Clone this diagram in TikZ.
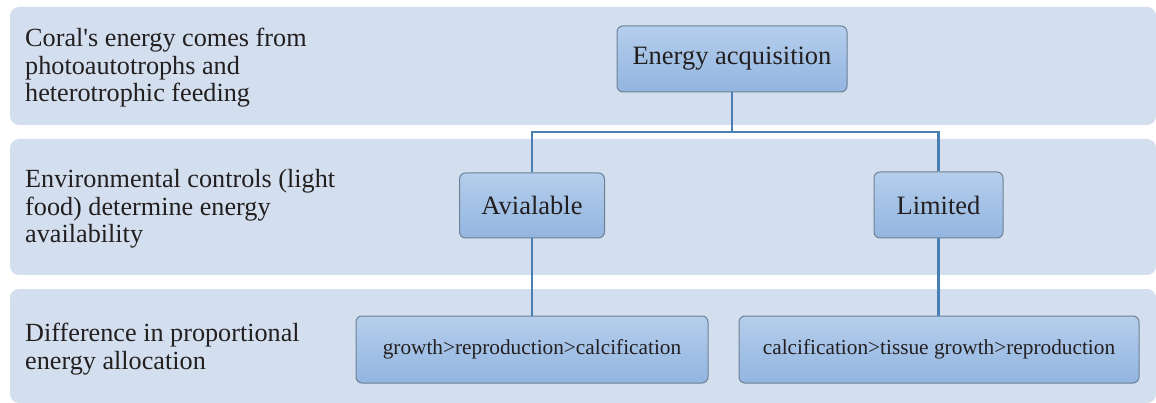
\documentclass[tikz,border=0pt]{standalone}
\usepackage{fontspec}
\setmainfont{Liberation Serif}
\definecolor{bandblue}{HTML}{D3DFEE}
\definecolor{boxtop}{HTML}{B5CEEC}
\definecolor{boxbot}{HTML}{92B5E0}
\definecolor{boxedge}{HTML}{6D8196}
\definecolor{linkblue}{HTML}{4A7FB3}
\definecolor{txt}{HTML}{231F20}
\begin{document}
\begin{tikzpicture}[x=1pt,y=-1pt,
  band/.style={fill=bandblue,draw=none,rounded corners=9pt},
  bandtext/.style={anchor=west,align=left,text=txt,inner sep=0pt,font=\fontsize{26.2}{27.6}\selectfont},
  cbox/.style={draw=boxedge,line width=1pt,rounded corners=6pt,top color=boxtop,bottom color=boxbot,
     text=txt,font=\fontsize{26.5}{28}\selectfont,inner sep=0pt},
  sbox/.style={cbox,font=\fontsize{21.3}{24}\selectfont},
  link/.style={draw=linkblue,line width=2.8pt}]
\useasboundingbox (0,0) rectangle (1156,403);
\fill[white] (0,0) rectangle (1156,403);
% bands
\path[band] (10,7) rectangle (1156,125);
\path[band] (10,139) rectangle (1156,275);
\path[band] (10,289) rectangle (1156,403);
% band labels
\node[bandtext] (l1) at (25,68) {Coral\textquotesingle s energy comes from\\photoautotrophs and\\heterotrophic feeding};
\node[bandtext] (l2) at (25,209) {Environmental controls (light\\food) determine energy\\availability};
\node[bandtext] (l3) at (25,349) {Difference in proportional\\energy allocation};
% boxes
\node[cbox,minimum width=230pt,minimum height=66pt] (ea) at (732,59) {Energy acquisition};
\node[cbox,minimum width=145pt,minimum height=65pt] (av) at (532,205.5) {Avialable};
\node[cbox,minimum width=129pt,minimum height=66pt] (li) at (938.5,205) {Limited};
\node[sbox,minimum width=352pt,minimum height=67pt] (g1) at (532,349.5) {growth>reproduction>calcification};
\node[sbox,minimum width=400pt,minimum height=67pt] (g2) at (939,349.5) {calcification>tissue growth>reproduction};
% connectors
\coordinate (split) at (732,132);
\path[link] (ea.south) -- (split);
\path[link] (split) -| (av.north);
\path[link] (split) -| (li.north);
\path[link] (av.south) -- (g1.north);
\path[link] (li.south) -- (li.south |- g2.north);
\end{tikzpicture}
\end{document}
